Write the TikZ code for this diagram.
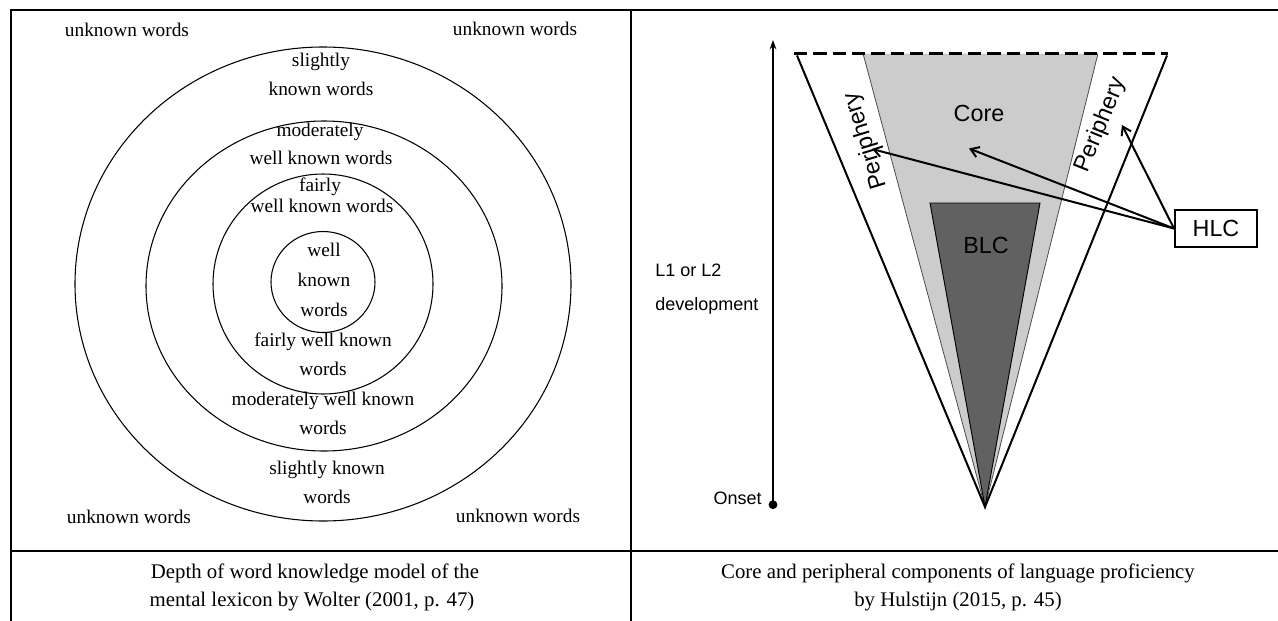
\documentclass[tikz,border=0pt]{standalone}
\usepackage{fontspec}
\setmainfont{Liberation Serif}
\newfontfamily\arialfont{Liberation Sans}
\usetikzlibrary{arrows.meta}

\definecolor{corefill}{gray}{0.80}
\definecolor{blcfill}{gray}{0.38}

\begin{document}
\begin{tikzpicture}[x=0.75pt, y=-0.75pt,
    rule/.style={line width=1.5pt},
    ring/.style={line width=0.8pt},
    word/.style={inner sep=0pt, font=\fontsize{14.5}{17}\selectfont, text height=1.5ex, text depth=.25ex},
    capline/.style={inner sep=0pt, font=\fontsize{15.6}{18}\selectfont, text height=1.5ex, text depth=.25ex},
    biglabel/.style={inner sep=0pt, font=\arialfont\fontsize{17.5}{20}\selectfont},
    smalllabel/.style={inner sep=0pt, font=\arialfont\fontsize{13.5}{16}\selectfont, text height=1.5ex, text depth=.25ex},
    hlcarrow/.style={line width=1.5pt, -{Straight Barb[length=6pt, width=8pt]}}
]

    \useasboundingbox (0,0) rectangle (1278,621);

    % Rahmen der Tabelle
    \draw[rule] (11,621) -- (11,10) -- (1278,10);
    \draw[rule] (631,10) -- (631,621);
    \draw[rule] (11,551) -- (1278,551);

    % Kreise des mentalen Lexikons
    \draw[ring] (323,284) ellipse [x radius=248, y radius=237];
    \draw[ring] (324,286) ellipse [x radius=178, y radius=165];
    \draw[ring] (323,284) ellipse [x radius=110, y radius=110];
    \draw[ring] (323,282) ellipse [x radius=52, y radius=50.5];

    % Beschriftungen der Kreise
    \node[word] (uwtl) at (127,33) {unknown words};
    \node[word] (uwtr) at (515,32) {unknown words};
    \node[word] (uwbl) at (129,520) {unknown words};
    \node[word] (uwbr) at (518,519) {unknown words};
    \node[word] (slighta) at (321,63) {slightly};
    \node[word] (slightb) at (321,92) {known words};
    \node[word] (modera) at (320,133) {moderately};
    \node[word] (moderb) at (321,161) {well known words};
    \node[word] (fairlya) at (320,188) {fairly};
    \node[word] (fairlyb) at (322,209) {well known words};
    \node[word] (wella) at (324,253) {well};
    \node[word] (wellb) at (324,283) {known};
    \node[word] (wellc) at (324,313) {words};
    \node[word] (fairlyc) at (323,343) {fairly well known};
    \node[word] (fairlyd) at (323,372) {words};
    \node[word] (moderc) at (323,402) {moderately well known};
    \node[word] (moderd) at (323,431) {words};
    \node[word] (slightc) at (327,471) {slightly known};
    \node[word] (slightd) at (327,500) {words};

    % Kern und Peripherie
    \fill[corefill] (863,53.5) -- (1098,53.5) -- (985,507) -- cycle;
    \draw[line width=0.6pt, draw=black!70] (863,53.5) -- (985,507) -- (1098,53.5);
    \filldraw[fill=blcfill, line width=0.7pt] (930,203) -- (1040,203) -- (985,507) -- cycle;
    \draw[line width=1.5pt, line join=miter] (797,55.5) -- (985,507) -- (1167,55.5);
    \draw[line width=2.4pt, dash pattern=on 10pt off 4.5pt] (794,53.5) -- (1168,53.5);

    \node[biglabel] (core) at (979,113) {Core};
    \node[biglabel] (blc) at (986,245) {BLC};
    \node[biglabel, rotate=107] (perileft) at (866,141) {Periphery};
    \node[biglabel, rotate=68] (periright) at (1101,125) {Periphery};

    % Entwicklungsachse
    \coordinate (onset) at (773,509);
    \coordinate (axistop) at (773,40);
    \draw[line width=1.5pt, {Circle[length=6.5pt]}-{Stealth[length=7pt, width=5pt]}] (onset) -- (axistop);
    \node[smalllabel, anchor=west] (devtop) at (655,273) {L1 or L2};
    \node[smalllabel, anchor=west] (devbot) at (655,307) {development};
    \node[smalllabel, anchor=east] (onsetlbl) at (762,501) {Onset};

    % HLC und Pfeile
    \node[draw, line width=1.5pt, inner sep=0pt, minimum width=61.5pt, minimum height=27.75pt, font=\arialfont\fontsize{17.5}{20}\selectfont] (hlc) at (1216,228.5) {HLC};
    \coordinate (tipleft) at (872,149);
    \coordinate (tipcore) at (969,148.5);
    \coordinate (tipright) at (1122,125);
    \draw[hlcarrow] (hlc.west) -- (tipleft);
    \draw[hlcarrow] (hlc.west) -- (tipcore);
    \draw[hlcarrow] (hlc.west) -- (tipright);

    % Bildunterschriften
    \node[capline] (capla) at (315,575) {Depth of word knowledge model of the};
    \node[capline] (caplb) at (312,603) {mental lexicon by Wolter (2001, p. 47)};
    \node[capline] (capra) at (958,575) {Core and peripheral components of language proficiency};
    \node[capline] (caprb) at (958,603) {by Hulstijn (2015, p. 45)};

\end{tikzpicture}
\end{document}
